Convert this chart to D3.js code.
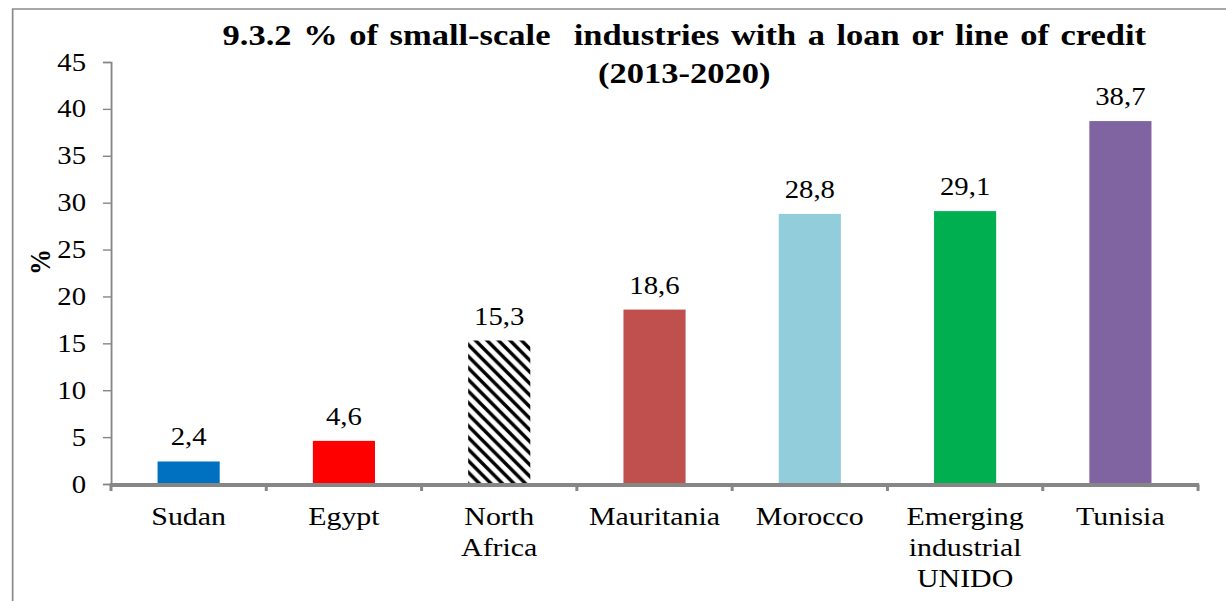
<!DOCTYPE html>
<html>
<head>
<meta charset="utf-8">
<script src="https://cdn.jsdelivr.net/npm/d3@7"></script>
<style>
  html, body { margin: 0; padding: 0; background: #ffffff; }
  svg { display: block; }
  text { font-family: "Liberation Serif", "Times New Roman", serif; fill: #000; }
</style>
</head>
<body>
<div id="chart"></div>
<script>
// Share of small-scale industries with a loan or line of credit, 2013-2020
const categories = ["Sudan", "Egypt", "North Africa", "Mauritania", "Morocco", "Emerging industrial UNIDO", "Tunisia"];
const categoryLines = [["Sudan"], ["Egypt"], ["North", "Africa"], ["Mauritania"], ["Morocco"], ["Emerging", "industrial", "UNIDO"], ["Tunisia"]];
const values = [2.4, 4.6, 15.3, 18.6, 28.8, 29.1, 38.7];
const barColors = ["#0070C0", "#FF0000", null, "#C0504D", "#92CDDC", "#00B050", "#8064A2"]; // null = hatched
const yTicks = [0, 5, 10, 15, 20, 25, 30, 35, 40, 45];
const titleLines = ["9.3.2 % of small-scale  industries with a loan or line of credit", "(2013-2020)"];
const yLabel = "%";

// Drawing is laid out in a narrower coordinate space and stretched to the page width
const pageW = 1226, pageH = 601;
const W = 1066, H = 601;

const svg = d3.select("#chart").append("svg")
  .attr("width", pageW).attr("height", pageH)
  .attr("viewBox", `0 0 ${W} ${H}`)
  .attr("preserveAspectRatio", "none");

svg.append("rect").attr("width", W).attr("height", H).attr("fill", "#fff");

// outer chart frame
svg.append("rect")
  .attr("x", 11).attr("y", 9)
  .attr("width", W + 20).attr("height", H + 20)
  .attr("fill", "none").attr("stroke", "#8c8c8c").attr("stroke-width", 1.5);

// diagonal hatch for the regional aggregate
const defs = svg.append("defs");
const pw = 10, ph = 11.6;
defs.append("pattern")
  .attr("id", "hatch").attr("patternUnits", "userSpaceOnUse")
  .attr("width", pw).attr("height", ph)
  .call(p => {
    p.append("rect").attr("width", pw).attr("height", ph).attr("fill", "#fff");
    p.append("path")
      .attr("d", `M0,0L${pw},${ph}M${-pw / 2},${ph / 2}L${pw / 2},${1.5 * ph}M${pw / 2},${-ph / 2}L${1.5 * pw},${ph / 2}`)
      .attr("stroke", "#000").attr("stroke-width", 3.2);
  });

const x0 = 96.5, x1 = 1041.7;
const y0 = 484, y1 = 62;

const x = d3.scaleBand().domain(categories).range([x0, x1]).paddingInner(0.6).paddingOuter(0.3);
const y = d3.scaleLinear().domain([0, 45]).range([y0, y1]);

const fmt = d3.formatLocale({ decimal: ",", thousands: " ", grouping: [3], currency: ["", ""] }).format(".1f");

// title
svg.append("g").selectAll("text").data(titleLines).join("text")
  .attr("x", 595).attr("y", (d, i) => 45 + i * 38)
  .attr("text-anchor", "middle")
  .attr("font-size", 30).attr("font-weight", "bold")
  .attr("word-spacing", (d, i) => i === 0 ? 2.6 : 0)
  .style("white-space", "pre")
  .text(d => d);

// y axis
const yAxis = svg.append("g")
  .attr("transform", `translate(${x0},0)`)
  .call(d3.axisLeft(y).tickValues(yTicks).tickSize(7).tickPadding(14.7).tickFormat(d3.format("d")));
yAxis.select(".domain").attr("stroke", "#868686").attr("stroke-width", 1.6);
yAxis.selectAll(".tick line").attr("stroke", "#868686").attr("stroke-width", 1.4);
yAxis.selectAll(".tick text")
  .attr("font-family", "Liberation Serif, serif").attr("font-size", 25).attr("fill", "#000");

svg.append("text")
  .attr("transform", `translate(34,262) rotate(-90)`)
  .attr("text-anchor", "middle").attr("dy", "0.35em")
  .attr("font-size", 26).attr("font-weight", "bold")
  .text(yLabel);

// bars
svg.append("g").selectAll("rect").data(values).join("rect")
  .attr("x", (d, i) => x(categories[i]))
  .attr("y", d => y(d))
  .attr("width", x.bandwidth())
  .attr("height", d => y(0) - y(d))
  .attr("fill", (d, i) => barColors[i] || "url(#hatch)");

// value labels
svg.append("g").selectAll("text").data(values).join("text")
  .attr("x", (d, i) => x(categories[i]) + x.bandwidth() / 2)
  .attr("y", d => y(d) - 16)
  .attr("text-anchor", "middle")
  .attr("font-size", 25)
  .text(d => fmt(d));

// x axis: heavy baseline with boundary ticks between categories
const step = x.step();
const bounds = d3.range(categories.length + 1).map(i => x0 + i * step);
svg.append("line")
  .attr("x1", x0 - 1).attr("x2", x1 + 1)
  .attr("y1", y0 + 1).attr("y2", y0 + 1)
  .attr("stroke", "#868686").attr("stroke-width", 4);
svg.append("g").selectAll("line").data(bounds).join("line")
  .attr("x1", d => d).attr("x2", d => d)
  .attr("y1", y0 + 1).attr("y2", y0 + 7)
  .attr("stroke", "#868686").attr("stroke-width", 2.6);

// category labels
svg.append("g").selectAll("text").data(categories).join("text")
  .attr("x", d => x(d) + x.bandwidth() / 2)
  .attr("y", 525)
  .attr("text-anchor", "middle")
  .attr("font-size", 26)
  .selectAll("tspan").data((d, i) => categoryLines[i]).join("tspan")
  .attr("x", function () { return this.parentNode.getAttribute("x"); })
  .attr("dy", (d, i) => i === 0 ? 0 : 31)
  .text(d => d);
</script>
</body>
</html>
